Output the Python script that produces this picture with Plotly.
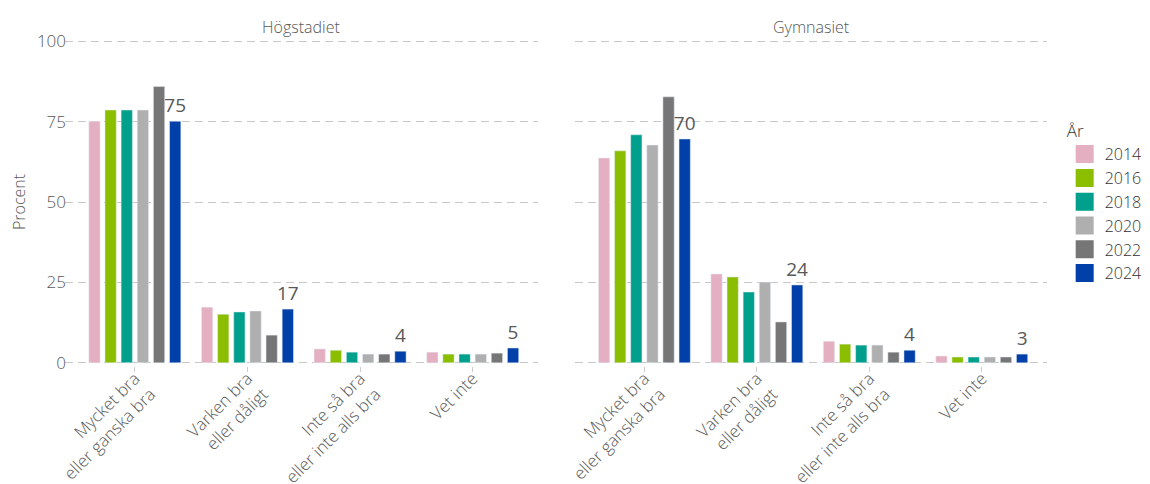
import plotly.graph_objects as go
from plotly.subplots import make_subplots

kategorier = ["Mycket bra<br>eller ganska bra", "Varken bra<br>eller dåligt",
              "Inte så bra<br>eller inte alls bra", "Vet inte"]
ar = ["2014", "2016", "2018", "2020", "2022", "2024"]
farger = ["#e4b0c1", "#8cbe00", "#00a08c", "#afafaf", "#767676", "#0040a8"]

hogstadiet = {
    "2014": [75.1, 17.3, 4.3, 3.3],
    "2016": [78.6, 15.1, 3.9, 2.7],
    "2018": [78.6, 15.8, 3.3, 2.7],
    "2020": [78.6, 16.1, 2.7, 2.7],
    "2022": [85.9, 8.6, 2.7, 3.0],
    "2024": [75.1, 16.7, 3.6, 4.6],
}
gymnasiet = {
    "2014": [63.7, 27.6, 6.7, 2.1],
    "2016": [65.9, 26.7, 5.8, 1.8],
    "2018": [70.9, 22.0, 5.5, 1.8],
    "2020": [67.7, 25.1, 5.5, 1.8],
    "2022": [82.7, 12.7, 3.3, 1.8],
    "2024": [69.6, 24.2, 3.9, 2.7],
}

FONT = "Open Sans"
GRA = "#585858"

fig = make_subplots(rows=1, cols=2, shared_yaxes=True)

for col, data in [(1, hogstadiet), (2, gymnasiet)]:
    for a, c in zip(ar, farger):
        sista = a == ar[-1]
        fig.add_trace(go.Bar(
            x=kategorier, y=data[a], name=a, marker_color=c,
            showlegend=False,
            texttemplate="%{y:.0f}" if sista else None,
            textposition="outside" if sista else "none",
            constraintext="none",
            cliponaxis=False,
            textfont=dict(family=FONT, size=19, color=GRA),
        ), row=1, col=col)

# legend entries with larger swatches
for a, c in zip(ar, farger):
    fig.add_trace(go.Scatter(
        x=[None], y=[None], mode="markers", name=a,
        marker=dict(symbol="square", size=16, color=c, line=dict(color=c, width=2)),
    ), row=1, col=1)

fig.update_xaxes(
    showgrid=False, zeroline=False, showline=False, automargin=False,
    tickangle=-45, ticks="outside", ticklen=5, tickcolor="#cccccc",
    ticklabelstandoff=-10,
    tickfont=dict(family=FONT, size=17, color=GRA, weight=300),
    range=[-0.62, 3.58],
)
fig.update_yaxes(
    range=[-1, 101], tickvals=[0, 25, 50, 75, 100], automargin=False,
    showgrid=True, gridcolor="#c8c8c8", griddash="8px,5px", gridwidth=1,
    zeroline=False, showline=False, ticklabelstandoff=-2,
    tickfont=dict(family=FONT, size=17, color=GRA, weight=300),
)
fig.update_yaxes(title=dict(text="Procent", font=dict(family=FONT, size=16, color=GRA, weight=300),
                            standoff=8),
                 row=1, col=1)

# page body has an 8px margin, so the figure is drawn 8px smaller
fig.update_layout(
    width=1142, height=476,
    margin=dict(l=57, r=103, t=30, b=118, autoexpand=False),
    plot_bgcolor="white", paper_bgcolor="white",
    barmode="group", bargap=0.14, bargroupgap=0.3,
    xaxis=dict(domain=[0, 0.4817]),
    xaxis2=dict(domain=[0.519, 1]),
    legend=dict(
        title=dict(text="År", font=dict(family=FONT, size=17, color="#333333", weight=300)),
        font=dict(family=FONT, size=16, color="#333333", weight=300),
        x=1.018, y=0.765, xanchor="left", yanchor="top",
        tracegroupgap=0, itemsizing="trace",
    ),
    annotations=[
        dict(text="Högstadiet", x=0.2408, y=1, xref="paper", yref="paper",
             xanchor="center", yanchor="bottom", showarrow=False, yshift=-2,
             font=dict(family=FONT, size=16, color=GRA, weight=300)),
        dict(text="Gymnasiet", x=0.7595, y=1, xref="paper", yref="paper",
             xanchor="center", yanchor="bottom", showarrow=False, yshift=-2,
             font=dict(family=FONT, size=16, color=GRA, weight=300)),
    ],
)

fig.write_html("out.html")
